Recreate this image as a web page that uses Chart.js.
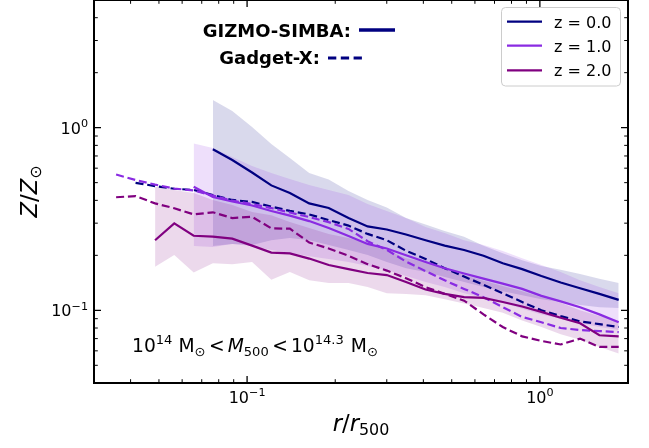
<!DOCTYPE html>
<html><head><meta charset="utf-8">
<script src="https://cdn.jsdelivr.net/npm/chart.js@4.4.1/dist/chart.umd.min.js"></script>
<style>html,body{margin:0;padding:0;background:#fff;}#wrap{width:649px;height:448px;}</style>
</head><body><div id="wrap"><canvas id="c" width="649" height="448"></canvas></div>
<script>
// ---------------- data ----------------
const radius = [0.0357,0.0416,0.0485,0.0564,0.0657,0.0764,0.089,0.104,0.121,0.140,0.163,0.190,0.222,0.258,0.300,0.349,0.407,0.473,0.551,0.642,0.747,0.870,1.012,1.178,1.372,1.597,1.859];

const gizmoZ0  = [null,null,null,null,null,0.761,0.665,0.568,0.483,0.439,0.385,0.363,0.320,0.288,0.277,0.260,0.242,0.226,0.214,0.199,0.181,0.168,0.154,0.142,0.132,0.123,0.114];
const gadgetZ0 = [null,0.499,0.479,0.463,0.456,0.428,0.402,0.392,0.370,0.350,0.335,0.312,0.291,0.262,0.242,0.212,0.191,0.170,0.153,0.138,0.124,0.111,0.100,0.093,0.087,0.084,0.081];
const gizmoZ1  = [null,null,null,null,0.475,0.417,0.394,0.375,0.350,0.330,0.308,0.282,0.255,0.231,0.218,0.200,0.184,0.170,0.159,0.149,0.140,0.131,0.120,0.112,0.104,0.095,0.086];
const gadgetZ1 = [0.554,0.517,0.488,0.464,0.453,0.425,0.399,0.382,0.363,0.343,0.324,0.304,0.279,0.239,0.214,0.185,0.164,0.146,0.131,0.118,0.104,0.092,0.086,0.080,0.078,0.077,0.076];
const gizmoZ2  = [null,null,0.242,0.299,0.256,0.253,0.247,0.226,0.207,0.205,0.192,0.177,0.168,0.160,0.156,0.143,0.130,0.123,0.118,0.117,0.111,0.105,0.098,0.091,0.085,0.073,0.072];
const gadgetZ2 = [0.416,0.422,0.385,0.362,0.335,0.344,0.320,0.325,0.281,0.280,0.235,0.218,0.199,0.179,0.165,0.150,0.134,0.123,0.113,0.095,0.081,0.072,0.068,0.065,0.070,0.063,0.063];

// scatter bands (GIZMO-SIMBA)
const bandZ0Hi = [null,null,null,null,null,1.417,1.233,1.008,0.814,0.682,0.564,0.520,0.450,0.402,0.365,0.320,0.295,0.272,0.253,0.226,0.205,0.188,0.175,0.167,0.158,0.149,0.141];
const bandZ0Lo = [null,null,null,null,null,0.225,0.231,0.228,0.242,0.249,0.242,0.228,0.214,0.201,0.184,0.170,0.162,0.152,0.143,0.134,0.127,0.121,0.115,0.111,0.107,0.104,0.103];
const bandZ1Hi = [null,null,null,null,0.819,0.774,0.691,0.617,0.564,0.523,0.485,0.456,0.428,0.382,0.350,0.320,0.286,0.265,0.242,0.228,0.211,0.193,0.177,0.162,0.146,0.134,0.124];
const bandZ1Lo = [null,null,null,null,0.225,0.222,0.231,0.225,0.214,0.206,0.198,0.191,0.184,0.175,0.166,0.154,0.143,0.134,0.124,0.117,0.110,0.102,0.095,0.090,0.085,0.081,0.078];
const bandZ2Hi = [null,null,0.475,0.456,0.439,0.402,0.377,0.345,0.332,0.304,0.282,0.262,0.249,0.234,0.214,0.193,0.184,0.170,0.156,0.145,0.136,0.127,0.118,0.110,0.100,0.093,0.088];
const bandZ2Lo = [null,null,0.173,0.201,0.161,0.181,0.179,0.184,0.147,0.162,0.146,0.141,0.141,0.134,0.124,0.123,0.121,0.115,0.109,0.103,0.097,0.088,0.081,0.074,0.069,0.063,0.058];

const seriesLabels = ['z = 0.0','z = 1.0','z = 2.0'];
const codeLabels = ['GIZMO-SIMBA:','Gadget-X:'];
const massLabel = ['10','14','M','⊙','<','M','500','<','10','14.3','M','⊙'];

const xMajorTicks = [0.1, 1];
const xTickLabels = ['10^−1','10^0'];
const xMinorTicks = [0.04,0.05,0.06,0.07,0.08,0.09,0.2,0.3,0.4,0.5,0.6,0.7,0.8,0.9];
const yMajorTicks = [0.1, 1];
const yTickLabels = ['10^−1','10^0'];
const yMinorTicks = [0.05,0.06,0.07,0.08,0.09,0.2,0.3,0.4,0.5,0.6,0.7,0.8,0.9,2,3,4];

// ---------------- styling ----------------
const C0 = '#000080', C1 = '#8a2be2', C2 = '#800080';
const F0 = 'rgba(0,0,128,0.15)', F1 = 'rgba(138,43,226,0.15)', F2 = 'rgba(128,0,128,0.15)';
const FONT = '"DejaVu Sans"';
const DASH = [8, 3.8];

function pts(arr){ const out=[]; radius.forEach((r,i)=>{ if(arr[i]!=null) out.push({x:r,y:arr[i]}); }); return out; }
function lineDS(arr,color,dashed,order){
  return {data:pts(arr),borderColor:color,borderWidth:2.2,borderDash:dashed?DASH:[],pointRadius:0,fill:false,tension:0,order:order};
}
function bandLo(arr,order){ return {data:pts(arr),borderWidth:0,borderColor:'rgba(0,0,0,0)',pointRadius:0,fill:false,order:order}; }
function bandHi(arr,color,target,order){ return {data:pts(arr),borderWidth:0,borderColor:'rgba(0,0,0,0)',backgroundColor:color,pointRadius:0,fill:target,order:order}; }

const datasets = [
  bandLo(bandZ0Lo,20), bandHi(bandZ0Hi,F0,0,19),
  bandLo(bandZ1Lo,18), bandHi(bandZ1Hi,F1,2,17),
  bandLo(bandZ2Lo,16), bandHi(bandZ2Hi,F2,4,15),
  lineDS(gizmoZ0,C0,false,9), lineDS(gadgetZ0,C0,true,8),
  lineDS(gizmoZ1,C1,false,7), lineDS(gadgetZ1,C1,true,6),
  lineDS(gizmoZ2,C2,false,5), lineDS(gadgetZ2,C2,true,4)
];

function fontOf(p){ return (p.it?'italic ':'')+(p.b?'bold ':'')+p.s+'px '+FONT; }
function rich(ctx,parts,x,y,align){
  const ws = parts.map(p=>{ctx.font=fontOf(p); return ctx.measureText(p.t).width+(p.pl||0)+(p.pr||0);});
  const total = ws.reduce((a,b)=>a+b,0);
  let cx = align==='center'? x-total/2 : (align==='right'? x-total : x);
  ctx.textAlign='left'; ctx.textBaseline='alphabetic';
  parts.forEach((p,i)=>{ ctx.font=fontOf(p); ctx.fillText(p.t, cx+(p.pl||0), y+(p.dy||0)); cx+=ws[i]; });
}
function powParts(lbl,s){ const [b,e]=lbl.split('^'); return [{t:b,s:s},{t:e,s:s*0.7,dy:-0.42*s}]; }

const deco = {
  id:'deco',
  afterDraw(chart){
    const ctx=chart.ctx, a=chart.chartArea, xs=chart.scales.x, ys=chart.scales.y;
    ctx.save();
    ctx.fillStyle='#000'; ctx.strokeStyle='#000';
    function tick(v,len,w,axis){
      ctx.lineWidth=w; ctx.beginPath();
      if(axis==='x'){ const p=xs.getPixelForValue(v); if(p<=a.left+1||p>=a.right-1) return;
        ctx.moveTo(p,a.bottom); ctx.lineTo(p,a.bottom-len); ctx.moveTo(p,a.top); ctx.lineTo(p,a.top+len); }
      else { const p=ys.getPixelForValue(v); if(p<=a.top+1||p>=a.bottom-1) return;
        ctx.moveTo(a.left,p); ctx.lineTo(a.left+len,p); ctx.moveTo(a.right,p); ctx.lineTo(a.right-len,p); }
      ctx.stroke();
    }
    xMinorTicks.forEach(v=>tick(v,3.8,1,'x')); xMajorTicks.forEach(v=>tick(v,7,1.3,'x'));
    yMinorTicks.forEach(v=>tick(v,3.8,1,'y')); yMajorTicks.forEach(v=>tick(v,7,1.3,'y'));
    ctx.lineWidth=2; ctx.strokeRect(a.left,a.top,a.right-a.left,a.bottom-a.top);
    xMajorTicks.forEach((v,i)=>rich(ctx,powParts(xTickLabels[i],16),xs.getPixelForValue(v),a.bottom+19.5,'center'));
    yMajorTicks.forEach((v,i)=>rich(ctx,powParts(yTickLabels[i],16),a.left-6,ys.getPixelForValue(v)+6,'right'));
    const T=22.7;
    rich(ctx,[{t:'r',it:1,s:T},{t:'/',s:T},{t:'r',it:1,s:T},{t:'500',s:T*0.7,dy:4}],(a.left+a.right)/2,431,'center');
    ctx.save(); ctx.translate(37,(a.top+a.bottom)/2); ctx.rotate(-Math.PI/2);
    rich(ctx,[{t:'Z',it:1,s:T},{t:'/',s:T},{t:'Z',it:1,s:T},{t:'⊙',s:T*0.7,dy:4}],0,0,'center');
    ctx.restore();
    const S=18.7, s=S*0.7;
    rich(ctx,[{t:massLabel[0],s:S},{t:massLabel[1],s:s,dy:-0.42*S},{t:massLabel[2],s:S,pl:6},{t:massLabel[3],s:s,dy:3.5},
              {t:massLabel[4],s:S,pl:3.5,pr:3},{t:massLabel[5],s:S,it:1},{t:massLabel[6],s:s,dy:3.5},
              {t:massLabel[7],s:S,pl:3.5,pr:3},{t:massLabel[8],s:S},{t:massLabel[9],s:s,dy:-0.42*S},{t:massLabel[10],s:S,pl:7},{t:massLabel[11],s:s,dy:3.5}],
         132,352,'left');
    rich(ctx,[{t:codeLabels[0],s:18,b:1}],202.7,36.6,'left');
    rich(ctx,[{t:codeLabels[1],s:18,b:1}],219.3,64.3,'left');
    ctx.strokeStyle=C0; ctx.lineWidth=3.5; ctx.setLineDash([]);
    ctx.beginPath(); ctx.moveTo(359,30); ctx.lineTo(395,30); ctx.stroke();
    ctx.lineWidth=3; ctx.setLineDash([8.3,4.5]);
    ctx.beginPath(); ctx.moveTo(328,58); ctx.lineTo(362,58); ctx.stroke();
    ctx.setLineDash([]);
    ctx.fillStyle='rgba(255,255,255,0.8)'; ctx.strokeStyle='#cccccc'; ctx.lineWidth=1;
    ctx.beginPath(); ctx.roundRect(501.5,7.5,119,78.5,4); ctx.fill(); ctx.stroke();
    const cols=[C0,C1,C2], rows=[21.7,45.7,70.3];
    rows.forEach((y,i)=>{
      ctx.strokeStyle=cols[i]; ctx.lineWidth=2.2; ctx.beginPath(); ctx.moveTo(507,y); ctx.lineTo(542,y); ctx.stroke();
      ctx.fillStyle='#000'; rich(ctx,[{t:seriesLabels[i],s:16}],554,y+5.8,'left');
    });
    ctx.restore();
  }
};

new Chart(document.getElementById('c'),{
  type:'line',
  data:{datasets:datasets},
  options:{
    responsive:false, devicePixelRatio:1, animation:false,
    layout:{padding:{left:0,right:21,top:0,bottom:0}},
    plugins:{legend:{display:false},tooltip:{enabled:false}},
    scales:{
      x:{type:'logarithmic',min:0.03,max:2,ticks:{display:false},grid:{display:false},border:{display:false},afterFit(s){s.height=65;}},
      y:{type:'logarithmic',min:0.04,max:5,ticks:{display:false},grid:{display:false},border:{display:false},afterFit(s){s.width=94;}}
    }
  },
  plugins:[deco]
});
</script></body></html>
